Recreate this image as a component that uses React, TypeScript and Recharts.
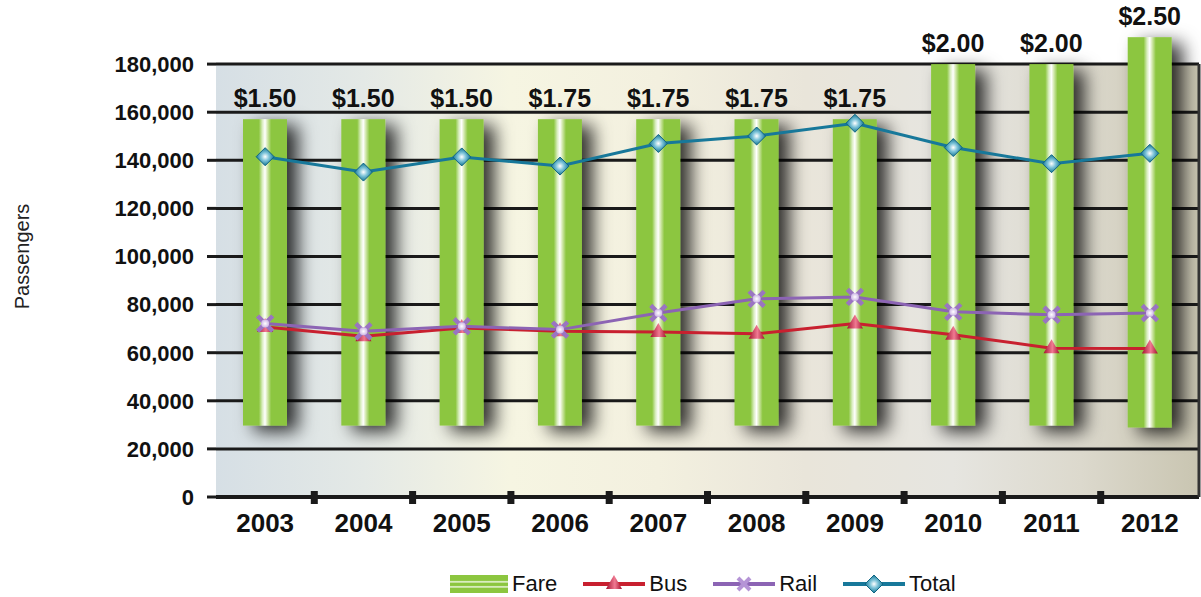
import {
  ComposedChart,
  Bar,
  Line,
  XAxis,
  YAxis,
  CartesianGrid,
  LabelList,
} from "recharts";

const years = ["2003", "2004", "2005", "2006", "2007", "2008", "2009", "2010", "2011", "2012"];
const fareLabels = ["$1.50", "$1.50", "$1.50", "$1.75", "$1.75", "$1.75", "$1.75", "$2.00", "$2.00", "$2.50"];
const fareLow = [29700, 29700, 29700, 29700, 29700, 29700, 29700, 29700, 29700, 28900];
const fareHigh = [157100, 157100, 157100, 157100, 157100, 157100, 157100, 180000, 180000, 191200];
const bus = [70700, 66800, 70300, 68900, 68600, 67900, 72100, 67500, 61900, 61700];
const rail = [72100, 68900, 71000, 69600, 76500, 82400, 83200, 77000, 75800, 76500];
const total = [141500, 135100, 141400, 137600, 147000, 150100, 155400, 145300, 138600, 142900];
const yTicks = [0, 20000, 40000, 60000, 80000, 100000, 120000, 140000, 160000, 180000];
const yMax = 200000;

const data = years.map((year, i) => ({
  year,
  fare: [fareLow[i], fareHigh[i]],
  fareLabel: fareLabels[i],
  bus: bus[i],
  rail: rail[i],
  total: total[i],
}));

const FONT = '"Liberation Sans", Arial, Helvetica, sans-serif';
const W = 1201;
const H = 597;
const PLOT_TOP = 16;
const PLOT_BOTTOM = 497;
const PLOT_LEFT = 216;
const PLOT_RIGHT = 1199;
const FRAME_AXIS_W = 1;
const BAND = (PLOT_RIGHT - PLOT_LEFT) / years.length;

// frame sides only run from the 180k line down to the axis
const plotH = PLOT_BOTTOM - PLOT_TOP;
const frameGap = plotH * (1 - yTicks[yTicks.length - 1] / yMax);
const frameDash = `0.01 ${frameGap} ${plotH}`;

const GREEN = "#8cc63f";
const RED = "#c8202f";
const PURPLE = "#8c64b4";
const TEAL = "#17789a";
const INK = "#1a1a1a";

// grid stripes: first stripe is the area above the 180k line, left white
const stripeFill = ["transparent", ...yTicks.slice(1).map(() => "url(#plotBg)")];

function CylinderBar(props: any) {
  const { x, y, width, height } = props;
  if (x == null || y == null) return null;
  const h = Math.abs(height);
  const top = height < 0 ? y + height : y;
  return (
    <rect x={x} y={top} width={width} height={h} fill="url(#cylinder)" filter="url(#barShadow)" />
  );
}

function diamond(cx: number, cy: number, r: number) {
  return `M${cx},${cy - r} L${cx + r},${cy} L${cx},${cy + r} L${cx - r},${cy} Z`;
}

function DiamondDot(props: any) {
  const { cx, cy, index } = props;
  if (cx == null || cy == null) return null;
  return (
    <path key={`d${index}`} d={diamond(cx, cy, 9)} fill="url(#diamondGrad)" stroke="#0f6582" strokeWidth={1} />
  );
}

function CrossDot(props: any) {
  const { cx, cy, index } = props;
  if (cx == null || cy == null) return null;
  const r = 6;
  return (
    <g key={`x${index}`}>
      <path
        d={`M${cx - r},${cy - r} L${cx + r},${cy + r} M${cx - r},${cy + r} L${cx + r},${cy - r}`}
        stroke="#9a74c2"
        strokeWidth={4.5}
        strokeLinecap="square"
      />
      <circle cx={cx} cy={cy} r={4} fill="url(#crossGrad)" />
    </g>
  );
}

function TriangleDot(props: any) {
  const { cx, cy, index } = props;
  if (cx == null || cy == null) return null;
  return (
    <path
      key={`t${index}`}
      d={`M${cx},${cy - 9} L${cx + 8},${cy + 5} L${cx - 8},${cy + 5} Z`}
      fill="url(#triGrad)"
    />
  );
}

function YearTick(props: any) {
  const { x, y, payload, index } = props;
  return (
    <g>
      {index < years.length - 1 && (
        <rect x={x + BAND / 2 - 3.5} y={y - 6} width={7} height={13} fill={INK} />
      )}
      <text
        x={x}
        y={y + 35}
        textAnchor="middle"
        fontSize={26}
        fontWeight="bold"
        fill="#111"
        fontFamily={FONT}
      >
        {payload.value}
      </text>
    </g>
  );
}

function LegendItem({ icon, label }: { icon: React.ReactNode; label: string }) {
  return (
    <div style={{ display: "flex", alignItems: "center", marginRight: 26 }}>
      {icon}
      <span style={{ marginLeft: 4, fontSize: 22, color: "#111" }}>{label}</span>
    </div>
  );
}

function LineIcon({ color, children }: { color: string; children?: React.ReactNode }) {
  return (
    <svg width={62} height={20}>
      <defs>
        <radialGradient id="lgDiamond" cx="50%" cy="50%" r="50%">
          <stop offset="0%" stopColor="#ffffff" />
          <stop offset="45%" stopColor="#7cc3d8" />
          <stop offset="100%" stopColor="#137494" />
        </radialGradient>
        <linearGradient id="lgTri" x1="0" y1="0" x2="1" y2="0">
          <stop offset="0%" stopColor="#a4102f" />
          <stop offset="55%" stopColor="#f07a92" />
          <stop offset="100%" stopColor="#a4102f" />
        </linearGradient>
      </defs>
      <line x1={0} y1={10} x2={62} y2={10} stroke={color} strokeWidth={4} />
      {children}
    </svg>
  );
}

function ChartLegend() {
  return (
    <div
      style={{
        position: "absolute",
        left: 450,
        top: 571,
        display: "flex",
        alignItems: "center",
        fontFamily: FONT,
      }}
    >
      <LegendItem
        label="Fare"
        icon={
          <svg width={58} height={18}>
            <defs>
              <linearGradient id="lgFare" x1="0" y1="0" x2="0" y2="1">
                <stop offset="0%" stopColor={GREEN} />
                <stop offset="30%" stopColor={GREEN} />
                <stop offset="38%" stopColor="#f2f9e8" />
                <stop offset="46%" stopColor={GREEN} />
                <stop offset="58%" stopColor={GREEN} />
                <stop offset="66%" stopColor="#f2f9e8" />
                <stop offset="74%" stopColor={GREEN} />
                <stop offset="100%" stopColor={GREEN} />
              </linearGradient>
            </defs>
            <rect x={0} y={0} width={58} height={18} fill="url(#lgFare)" />
          </svg>
        }
      />
      <LegendItem
        label="Bus"
        icon={
          <LineIcon color={RED}>
            <path d="M31,1 L39,15 L23,15 Z" fill="url(#lgTri)" />
          </LineIcon>
        }
      />
      <LegendItem
        label="Rail"
        icon={
          <LineIcon color={PURPLE}>
            <path d="M25,4 L37,16 M25,16 L37,4" stroke="#b594d6" strokeWidth={4} />
          </LineIcon>
        }
      />
      <LegendItem
        label="Total"
        icon={
          <LineIcon color={TEAL}>
            <path d={diamond(31, 10, 9)} fill="url(#lgDiamond)" stroke="#0f6582" />
          </LineIcon>
        }
      />
    </div>
  );
}

export default function App() {
  return (
    <div
      style={{
        position: "absolute",
        left: 0,
        top: 0,
        width: W,
        height: H,
        overflow: "hidden",
        background: "#fff",
        fontFamily: FONT,
      }}
    >
      <ComposedChart
        width={W}
        height={H}
        data={data}
        margin={{ top: PLOT_TOP, right: W - PLOT_RIGHT - FRAME_AXIS_W, bottom: 0, left: 0 }}
        barCategoryGap={0}
      >
        <defs>
          <linearGradient id="plotBg" x1="0" y1="0" x2="1" y2="0">
            <stop offset="0%" stopColor="#d6dfe5" />
            <stop offset="15%" stopColor="#e4e9e6" />
            <stop offset="30%" stopColor="#f6f5e2" />
            <stop offset="45%" stopColor="#f3f0df" />
            <stop offset="60%" stopColor="#e9e5da" />
            <stop offset="75%" stopColor="#e6e5e0" />
            <stop offset="88%" stopColor="#dcd9cd" />
            <stop offset="100%" stopColor="#c9c5b1" />
          </linearGradient>
          <linearGradient id="cylinder" x1="0" y1="0" x2="1" y2="0">
            <stop offset="0%" stopColor={GREEN} />
            <stop offset="36%" stopColor={GREEN} />
            <stop offset="44%" stopColor="#d9edc0" />
            <stop offset="50%" stopColor="#ffffff" />
            <stop offset="56%" stopColor="#cfe6a8" />
            <stop offset="64%" stopColor={GREEN} />
            <stop offset="100%" stopColor={GREEN} />
          </linearGradient>
          <radialGradient id="diamondGrad" cx="50%" cy="50%" r="50%">
            <stop offset="0%" stopColor="#ffffff" />
            <stop offset="45%" stopColor="#7cc3d8" />
            <stop offset="100%" stopColor="#137494" />
          </radialGradient>
          <radialGradient id="crossGrad" cx="50%" cy="50%" r="50%">
            <stop offset="0%" stopColor="#ffffff" />
            <stop offset="100%" stopColor="#cdb6e6" />
          </radialGradient>
          <linearGradient id="triGrad" x1="0" y1="0" x2="1" y2="0">
            <stop offset="0%" stopColor="#a4102f" />
            <stop offset="55%" stopColor="#f07a92" />
            <stop offset="100%" stopColor="#a4102f" />
          </linearGradient>
          <filter id="barShadow" x="-40%" y="-10%" width="220%" height="130%">
            <feDropShadow dx={11} dy={6} stdDeviation={9} floodColor="#000" floodOpacity={0.8} />
          </filter>
        </defs>
        <CartesianGrid
          vertical={false}
          stroke="none"
          horizontalValues={yTicks}
          horizontalFill={stripeFill}
          fillOpacity={1}
        />
        <CartesianGrid vertical={false} stroke={INK} strokeWidth={3} horizontalValues={yTicks} />
        <XAxis
          dataKey="year"
          height={H - PLOT_BOTTOM}
          axisLine={{ stroke: INK, strokeWidth: 4 }}
          tickLine={false}
          tickSize={0}
          tickMargin={0}
          interval={0}
          tick={<YearTick />}
        />
        <YAxis
          width={PLOT_LEFT}
          domain={[0, yMax]}
          ticks={yTicks}
          axisLine={false}
          tickLine={{ stroke: INK, strokeWidth: 3 }}
          tickSize={9}
          tickMargin={13}
          tickFormatter={(v: number) => v.toLocaleString("en-US")}
          tick={{ fontSize: 22, fontWeight: "bold", fill: "#111", fontFamily: FONT }}
          label={{
            value: "Passengers",
            angle: -90,
            position: "insideLeft",
            offset: 22,
            textAnchor: "middle",
            style: { fontSize: 20, fill: "#222", fontFamily: FONT, textAnchor: "middle" },
          }}
        />
        <YAxis
          yAxisId="frameRight"
          orientation="right"
          width={FRAME_AXIS_W}
          domain={[0, yMax]}
          ticks={yTicks}
          tick={false}
          tickLine={false}
          axisLine={{ stroke: "#333", strokeWidth: 3, strokeDasharray: frameDash }}
        />
        <Bar dataKey="fare" barSize={44} shape={<CylinderBar />} isAnimationActive={false}>
          <LabelList
            dataKey="fareLabel"
            position="top"
            offset={12}
            fill="#111"
            fontSize={25}
            fontWeight="bold"
            fontFamily={FONT}
          />
        </Bar>
        <Line
          dataKey="bus"
          stroke={RED}
          strokeWidth={3}
          dot={(p: any) => <TriangleDot {...p} />}
          activeDot={false}
          isAnimationActive={false}
        />
        <Line
          dataKey="rail"
          stroke={PURPLE}
          strokeWidth={3}
          dot={(p: any) => <CrossDot {...p} />}
          activeDot={false}
          isAnimationActive={false}
        />
        <Line
          dataKey="total"
          stroke={TEAL}
          strokeWidth={3}
          dot={(p: any) => <DiamondDot {...p} />}
          activeDot={false}
          isAnimationActive={false}
        />
      </ComposedChart>
      <ChartLegend />
    </div>
  );
}
